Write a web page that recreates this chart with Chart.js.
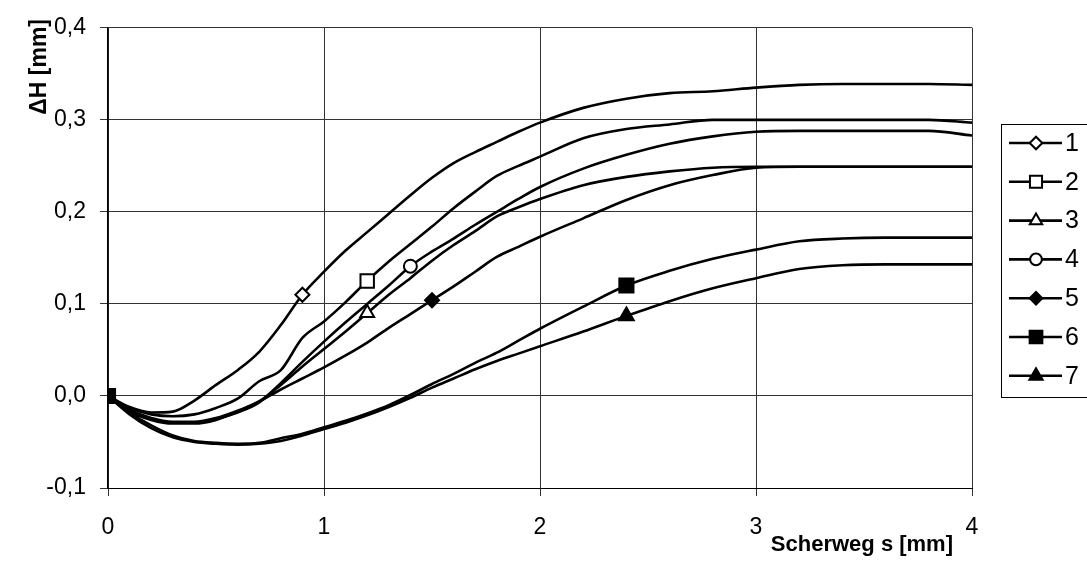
<!DOCTYPE html>
<html>
<head>
<meta charset="utf-8">
<script src="https://cdn.jsdelivr.net/npm/chart.js@4"></script>
<style>
html,body{margin:0;padding:0;background:#fff;}
#wrap{width:1087px;height:569px;position:relative;}
</style>
</head>
<body>
<div id="wrap"><canvas id="c"></canvas></div>
<script>
// ---- data ----
const xs = [0,0.1,0.2,0.3,0.4,0.5,0.6,0.7,0.8,0.9,1.0,1.1,1.2,1.3,1.4,1.5,1.6,1.7,1.8,1.9,2.0,2.2,2.4,2.6,2.8,3.0,3.2,3.4,3.6,3.8,4.0];
const s1 = [0,-0.012,-0.018,-0.017,-0.005,0.012,0.028,0.048,0.077,0.110,0.135,0.158,0.178,0.198,0.218,0.237,0.253,0.265,0.276,0.287,0.297,0.313,0.323,0.329,0.331,0.335,0.338,0.339,0.339,0.339,0.338];
const s2 = [0,-0.013,-0.020,-0.022,-0.020,-0.013,-0.003,0.016,0.028,0.063,0.081,0.102,0.125,0.146,0.165,0.184,0.204,0.222,0.239,0.250,0.260,0.280,0.290,0.295,0.300,0.300,0.300,0.300,0.300,0.300,0.297];
const s3 = [0,-0.015,-0.024,-0.028,-0.028,-0.024,-0.016,-0.006,0.012,0.032,0.051,0.070,0.090,0.110,0.128,0.147,0.164,0.179,0.195,0.205,0.214,0.229,0.238,0.244,0.248,0.249,0.249,0.249,0.249,0.249,0.249];
const s4 = [0,-0.016,-0.025,-0.029,-0.029,-0.025,-0.018,-0.007,0.014,0.037,0.059,0.080,0.100,0.120,0.141,0.157,0.171,0.186,0.200,0.214,0.227,0.247,0.262,0.274,0.282,0.287,0.288,0.288,0.288,0.288,0.283];
const s5 = [0,-0.017,-0.026,-0.030,-0.030,-0.026,-0.017,-0.006,0.007,0.019,0.031,0.044,0.058,0.074,0.089,0.104,0.119,0.135,0.151,0.162,0.173,0.193,0.213,0.229,0.240,0.248,0.249,0.249,0.249,0.249,0.249];
const s6 = [0,-0.018,-0.032,-0.043,-0.049,-0.051,-0.052,-0.051,-0.046,-0.041,-0.034,-0.027,-0.019,-0.010,0.001,0.013,0.024,0.036,0.047,0.060,0.073,0.097,0.120,0.136,0.149,0.159,0.168,0.171,0.172,0.172,0.172];
const s7 = [0,-0.020,-0.035,-0.045,-0.050,-0.052,-0.053,-0.052,-0.049,-0.043,-0.036,-0.029,-0.021,-0.012,-0.002,0.009,0.019,0.029,0.038,0.046,0.054,0.070,0.087,0.103,0.117,0.128,0.138,0.142,0.143,0.143,0.143];
const seriesNames = ['1','2','3','4','5','6','7'];
const markerX = [0.9,1.2,1.2,1.4,1.5,2.4,2.4];
const xTickLabels = ['0','1','2','3','4'];
const yTickLabels = ['-0,1','0,0','0,1','0,2','0,3','0,4'];
const xTitle = 'Scherweg s [mm]';
const yTitle = '\u0394H [mm]';

// ---- styles ----
const styles = [
  {ps:'rectRot', fill:'#fff', r:7},
  {ps:'rect', fill:'#fff', r:9.5},
  {ps:'triangle', fill:'#fff', r:8},
  {ps:'circle', fill:'#fff', r:6.5},
  {ps:'rectRot', fill:'#000', r:7},
  {ps:'rect', fill:'#000', r:10},
  {ps:'triangle', fill:'#000', r:8.5}
];
const allSeries = [s1,s2,s3,s4,s5,s6,s7];
const datasets = allSeries.map((s, i) => {
  const mIdx = xs.indexOf(markerX[i]);
  return {
    label: seriesNames[i],
    data: xs.map((x, k) => ({x: x, y: s[k]})),
    borderColor: '#000',
    borderWidth: 2.6,
    cubicInterpolationMode: 'monotone',
    pointStyle: styles[i].ps,
    pointBackgroundColor: styles[i].fill,
    pointBorderColor: '#000',
    pointBorderWidth: 2,
    pointRadius: (ctx) => (ctx.dataIndex === mIdx || (i === 5 && ctx.dataIndex === 0)) ? styles[i].r : 0,
    fill: false
  };
});

function drawMarker(ctx, style, x, y, r) {
  ctx.beginPath();
  if (style === 'rect') {
    const h = r * Math.SQRT1_2;
    ctx.rect(x - h, y - h, 2 * h, 2 * h);
  } else if (style === 'rectRot') {
    ctx.moveTo(x, y - r); ctx.lineTo(x + r, y); ctx.lineTo(x, y + r); ctx.lineTo(x - r, y); ctx.closePath();
  } else if (style === 'triangle') {
    ctx.moveTo(x, y - r);
    ctx.lineTo(x + r * Math.cos(Math.PI / 6), y + r * 0.5);
    ctx.lineTo(x - r * Math.cos(Math.PI / 6), y + r * 0.5);
    ctx.closePath();
  } else {
    ctx.arc(x, y, r, 0, Math.PI * 2);
  }
  ctx.fill(); ctx.stroke();
}

const customDraw = {
  id: 'customDraw',
  afterDraw(chart) {
    const ctx = chart.ctx;
    ctx.save();
    // legend box
    ctx.strokeStyle = '#000';
    ctx.lineWidth = 1;
    ctx.strokeRect(1001.5, 124.5, 100, 273);
    chart.data.datasets.forEach((ds, i) => {
      const y = 143 + i * 38.8;
      ctx.strokeStyle = '#000';
      ctx.lineWidth = 2.6;
      ctx.beginPath(); ctx.moveTo(1009, y); ctx.lineTo(1062, y); ctx.stroke();
      ctx.fillStyle = styles[i].fill;
      ctx.lineWidth = 2;
      drawMarker(ctx, styles[i].ps, 1036, y, styles[i].r * 0.9);
      ctx.fillStyle = '#000';
      ctx.font = '25px "Liberation Sans", Arial, sans-serif';
      ctx.textAlign = 'left';
      ctx.textBaseline = 'middle';
      ctx.fillText(ds.label, 1065, y + 1);
    });
    // axis titles
    ctx.fillStyle = '#000';
    ctx.font = 'bold 22px "Liberation Sans", Arial, sans-serif';
    ctx.textAlign = 'right';
    ctx.textBaseline = 'middle';
    ctx.fillText(xTitle, 953, 545);
    ctx.font = 'bold 23px "Liberation Sans", Arial, sans-serif';
    ctx.translate(40, 19);
    ctx.rotate(-Math.PI / 2);
    ctx.textAlign = 'right';
    ctx.fillText(yTitle, 0, 0);
    ctx.restore();
  }
};

new Chart(document.getElementById('c'), {
  type: 'line',
  data: { datasets: datasets },
  options: {
    responsive: true,
    maintainAspectRatio: false,
    animation: false,
    events: [],
    layout: { padding: { top: 23, right: 115, left: 0, bottom: 0 } },
    plugins: { legend: { display: false }, tooltip: { enabled: false } },
    scales: {
      x: {
        type: 'linear', min: 0, max: 4,
        afterFit: (s) => { s.height = 81; },
        ticks: {
          stepSize: 1, color: '#000', padding: 18,
          font: { family: '"Liberation Sans", Arial, sans-serif', size: 23 },
          callback: (v) => xTickLabels[Math.round(v)]
        },
        grid: { color: '#333', lineWidth: 1, tickLength: 8, drawTicks: true },
        border: { color: '#000', width: 1 }
      },
      y: {
        type: 'linear', min: -0.1, max: 0.4,
        afterFit: (s) => { s.width = 108; },
        ticks: {
          stepSize: 0.1, color: '#000', padding: 14,
          font: { family: '"Liberation Sans", Arial, sans-serif', size: 23 },
          callback: (v) => yTickLabels[Math.round(v * 10) + 1]
        },
        grid: { color: '#333', lineWidth: 1, tickLength: 8, drawTicks: true },
        border: { color: '#000', width: 1.5 }
      }
    }
  },
  plugins: [customDraw]
});
</script>
</body>
</html>
